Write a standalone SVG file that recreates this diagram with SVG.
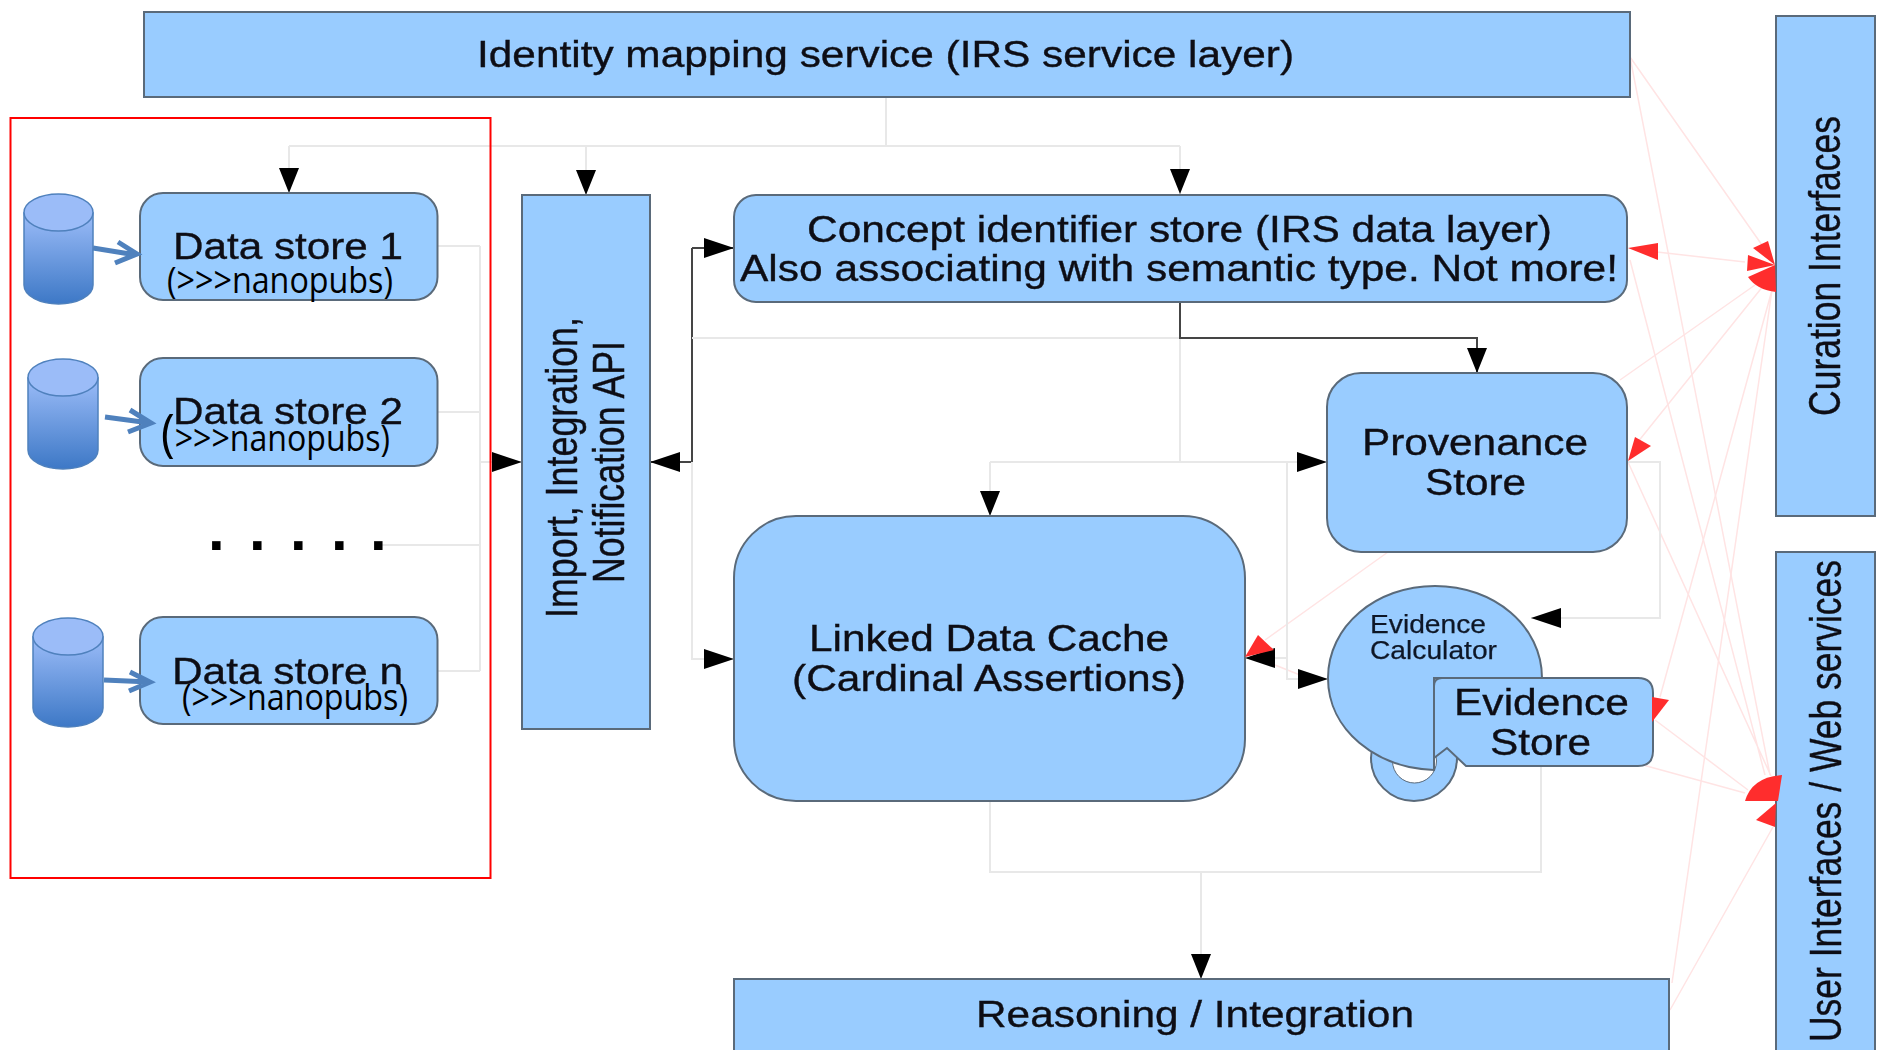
<svg xmlns="http://www.w3.org/2000/svg" width="1878" height="1050" viewBox="0 0 1878 1050">
<style>
.n{fill:#99ccff;stroke:#5a6a7a;stroke-width:2;filter:url(#soft)}
.t{font-family:"Liberation Sans",Arial,sans-serif;font-size:36px;fill:#0d0d14;stroke:#0d0d14;stroke-width:.35;filter:url(#soft)}
.v{font-size:44px}
.s{font-family:"Liberation Sans",Arial,sans-serif;font-size:26px;fill:#101828;stroke:#101828;stroke-width:.25;filter:url(#soft)}
.c{font-family:"Open Sans","Noto Sans",sans-serif;font-size:36px;fill:#000}
.d{font-family:"Liberation Sans",Arial,sans-serif;font-size:60px;font-weight:bold;fill:#000}
.l{fill:none;stroke:#e8e8e8;stroke-width:2}
.k{fill:none;stroke:#444;stroke-width:2}
.p{fill:none;stroke:#ffe4e4;stroke-width:1.5}
.r{fill:#ff2d2d}
.b{fill:none;stroke:#4f81bd;stroke-width:5}
.cb{fill:url(#cg);stroke:#4f81bd;stroke-width:1.5}
.ct{fill:#9bbcf8;stroke:#4f81bd;stroke-width:1.5}
</style>
<defs>
<filter id="soft" x="-5%" y="-5%" width="110%" height="110%"><feGaussianBlur stdDeviation="0.6"/></filter>
<linearGradient id="cg" x1="0" y1="0" x2="0" y2="1"><stop offset="0" stop-color="#9bbcf8"/><stop offset="1" stop-color="#3d78c6"/></linearGradient>
<marker id="av" markerUnits="userSpaceOnUse" markerWidth="25" markerHeight="20" refX="25" refY="10" orient="auto"><path d="M0 0L25 10L0 20Z" fill="#000"/></marker>
<marker id="ah" markerUnits="userSpaceOnUse" markerWidth="30" markerHeight="20" refX="30" refY="10" orient="auto"><path d="M0 0L30 10L0 20Z" fill="#000"/></marker>
</defs>
<rect width="1878" height="1050" fill="#fff"/>
<g id="connectors" filter="url(#soft)">
<path class="p" d="M1630 57L1762 245M1657 252L1745 262M1620 380L1755 285M1637 443L1772 275M1660 697L1772 290M1672 983L1772 290"/>
<path class="p" d="M1630 57L1770 775M1630 260L1765 775M1628 462L1771 776M1655 720L1748 790M1643 765L1745 793M1670 1010L1773 827M1388 552L1265 640M1275 665L1300 675"/>
<path class="l" d="M886 97V146M289 146H1180"/>
<path class="l" d="M289 146V193" marker-end="url(#av)"/>
<path class="l" d="M586 146V195" marker-end="url(#av)"/>
<path class="l" d="M1180 146V194" marker-end="url(#av)"/>
<path class="l" d="M437 246H480M437 412H480M382 545H480M437 671H480M480 246V671"/>
<path class="l" d="M480 462H522" marker-end="url(#ah)"/>
<path class="k" d="M692 248V462H650" marker-end="url(#ah)"/>
<path class="k" d="M692 248H734" marker-end="url(#ah)"/>
<path class="l" d="M692 462V659H734" marker-end="url(#ah)"/>
<path class="l" d="M692 338H1180M1180 302V462"/>
<path class="k" d="M1180 302V338H1477V373" marker-end="url(#av)"/>
<path class="l" d="M990 462V516" marker-end="url(#av)"/>
<path class="l" d="M990 462H1327" marker-end="url(#ah)"/>
<path class="l" d="M1287 462V679H1328" marker-end="url(#ah)"/>
<path class="l" d="M1287 658H1245" marker-end="url(#ah)"/>
<path class="l" d="M1627 462H1660V618H1531" marker-end="url(#ah)"/>
<path class="l" d="M990 801V872H1541V766M1201 872V979" marker-end="url(#av)"/>
</g>
<g id="identity"><rect class="n" x="144" y="12" width="1486" height="85"/><text class="t" x="477" y="67" textLength="817" lengthAdjust="spacingAndGlyphs">Identity mapping service (IRS service layer)</text></g>
<g id="curation"><rect class="n" x="1776" y="16" width="99" height="500"/><text class="t v" transform="translate(1840 416) rotate(-90)" textLength="300" lengthAdjust="spacingAndGlyphs">Curation Interfaces</text></g>
<g id="user"><rect class="n" x="1776" y="552" width="99" height="510"/><text class="t v" transform="translate(1841 1042) rotate(-90)" textLength="482" lengthAdjust="spacingAndGlyphs">User Interfaces / Web services</text></g>
<g id="cyl1"><path class="cb" d="M24 213V285C24 296 40 304 58.500 304S93 296 93 285V213Z"/><ellipse class="ct" cx="58.500" cy="212.500" rx="34.500" ry="18.500"/></g>
<g id="cyl2"><path class="cb" d="M28 378V450C28 461 44 469 63 469S98 461 98 450V378Z"/><ellipse class="ct" cx="63" cy="377.500" rx="35" ry="18.500"/></g>
<g id="cyl3"><path class="cb" d="M33 637V708C33 719 49 727 68 727S103 719 103 708V637Z"/><ellipse class="ct" cx="68" cy="636.500" rx="35" ry="18.500"/></g>
<g id="store1"><rect class="n" x="140" y="193" width="297.500" height="107" rx="23"/><text class="t" x="173" y="259" textLength="230" lengthAdjust="spacingAndGlyphs">Data store 1</text><text class="c" x="167" y="293" textLength="226" lengthAdjust="spacingAndGlyphs">(&gt;&gt;&gt;nanopubs)</text></g>
<g id="store2"><rect class="n" x="140" y="358" width="297.500" height="108" rx="23"/><text class="t" x="173" y="424" textLength="230" lengthAdjust="spacingAndGlyphs">Data store 2</text><text class="c" x="161" y="451" textLength="229" lengthAdjust="spacingAndGlyphs"><tspan font-size="52">(</tspan>&gt;&gt;&gt;nanopubs)</text></g>
<g id="dots"><text class="d" x="208 249 290 331 370" y="550">.....</text></g>
<g id="storen"><rect class="n" x="140" y="617" width="297.500" height="107" rx="23"/><text class="t" x="172" y="684" textLength="231" lengthAdjust="spacingAndGlyphs">Data store n</text><text class="c" x="182" y="710" textLength="226" lengthAdjust="spacingAndGlyphs">(&gt;&gt;&gt;nanopubs)</text></g>
<g id="import"><rect class="n" x="522" y="195" width="128" height="534"/><text class="t v" transform="translate(577 618) rotate(-90)" textLength="301" lengthAdjust="spacingAndGlyphs">Import, Integration,</text><text class="t v" transform="translate(624 583) rotate(-90)" textLength="242" lengthAdjust="spacingAndGlyphs">Notification API</text></g>
<g id="concept"><rect class="n" x="734" y="195" width="893" height="107" rx="22"/><text class="t" x="807" y="242" textLength="745" lengthAdjust="spacingAndGlyphs">Concept identifier store (IRS data layer)</text><text class="t" x="740" y="281" textLength="878" lengthAdjust="spacingAndGlyphs">Also associating with semantic type. Not more!</text></g>
<g id="provenance"><rect class="n" x="1327" y="373" width="300" height="179" rx="34"/><text class="t" x="1362" y="455" textLength="226" lengthAdjust="spacingAndGlyphs">Provenance</text><text class="t" x="1425" y="495" textLength="101" lengthAdjust="spacingAndGlyphs">Store</text></g>
<g id="ldc"><rect class="n" x="734" y="516" width="511" height="285" rx="62"/><text class="t" x="809" y="651" textLength="360" lengthAdjust="spacingAndGlyphs">Linked Data Cache</text><text class="t" x="792" y="691" textLength="394" lengthAdjust="spacingAndGlyphs">(Cardinal Assertions)</text></g>
<g id="calculator"><circle class="n" cx="1414" cy="758" r="43"/><circle cx="1414.500" cy="761" r="22" fill="#fff" stroke="#5a6a7a" stroke-width="1"/><path class="n" d="M1434 770C1376 768 1328 730 1328 678C1328 626 1376 586 1435 586C1494 586 1542 626 1542 678L1434 678Z"/><text class="s" x="1370" y="633" textLength="116" lengthAdjust="spacingAndGlyphs">Evidence</text><text class="s" x="1370" y="659" textLength="127" lengthAdjust="spacingAndGlyphs">Calculator</text></g>
<g id="evidence"><path class="n" d="M1434 758V686Q1434 678 1442 678H1638Q1653 678 1653 693V751Q1653 766 1638 766H1466L1447 748Z"/><text class="t" x="1454" y="715" textLength="175" lengthAdjust="spacingAndGlyphs">Evidence</text><text class="t" x="1490" y="755" textLength="101" lengthAdjust="spacingAndGlyphs">Store</text></g>
<g id="reasoning"><rect class="n" x="734" y="979" width="935" height="85"/><text class="t" x="976" y="1027" textLength="438" lengthAdjust="spacingAndGlyphs">Reasoning / Integration</text></g>
<g id="source-arrows">
<path class="b" d="M93 248L136 255M118 242L137 254L115 263"/>
<path class="b" d="M105 417L150 423M130 410L151 423L128 432"/>
<path class="b" d="M104 680L150 682M130 672L150 682L129 691"/>
</g>
<g id="redheads">
<path class="r" d="M1628 248L1658 243V260Z"/>
<path class="r" d="M1775 265L1753 248L1768 241Z"/>
<path class="r" d="M1775 265L1748 255L1747 271Z"/>
<path class="r" d="M1775 265L1748 277Q1757 290 1776 292Z"/>
<path class="r" d="M1628 461L1635 437L1651 446Z"/>
<path class="r" d="M1245 657L1258 635L1274 650Z"/>
<path class="r" d="M1652 697L1669 700L1652 722Z"/>
<path class="r" d="M1782 775Q1752 777 1745 801H1778Z"/>
<path class="r" d="M1776 803L1756 820L1775 827Z"/>
</g>
<rect id="selection" x="10.500" y="118" width="480" height="760" fill="none" stroke="#f00" stroke-width="2"/>
</svg>
